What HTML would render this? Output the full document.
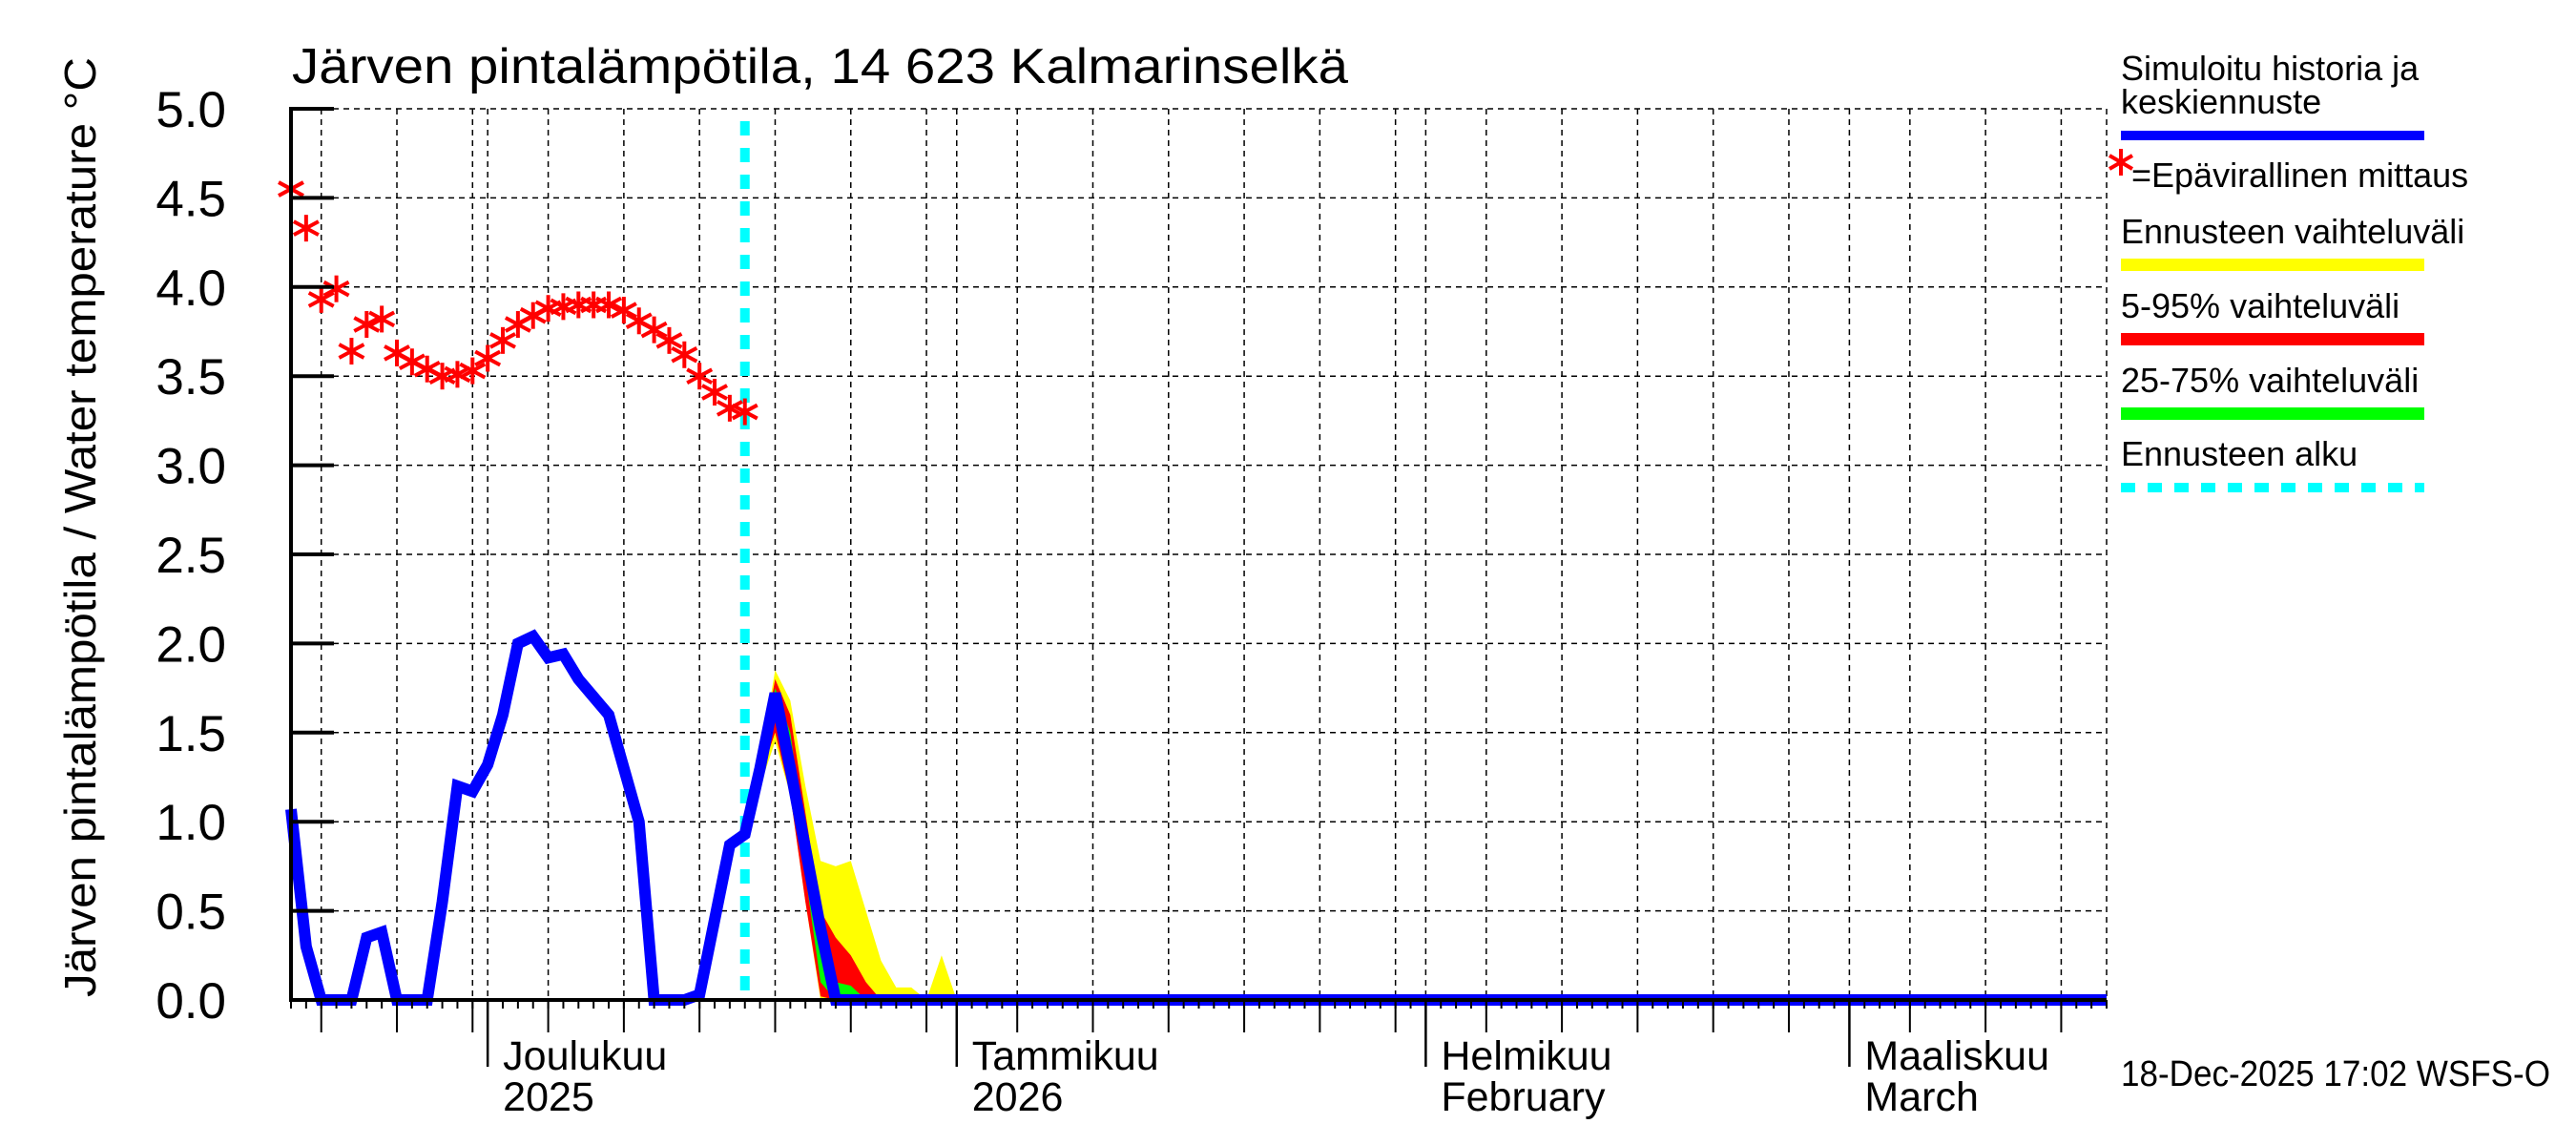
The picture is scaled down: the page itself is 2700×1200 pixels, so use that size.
<!DOCTYPE html>
<html><head><meta charset="utf-8">
<style>
html,body{margin:0;padding:0;background:#fff;}
svg{display:block;font-family:"Liberation Sans",Arial,sans-serif;}
</style></head>
<body>
<svg id="chart" width="2700" height="1200" viewBox="0 0 2700 1200" xmlns="http://www.w3.org/2000/svg">
  <rect x="0" y="0" width="2700" height="1200" fill="#fff"/>
  <g id="grid"></g>
  <g id="bands"></g>
  <g id="series"></g>
  <g id="axes"></g>
  <text x="306" y="87" font-size="52" textLength="1107" lengthAdjust="spacingAndGlyphs">Järven pintalämpötila, 14 623 Kalmarinselkä</text>
  <text transform="translate(100,1045) rotate(-90)" x="0" y="0" font-size="46" textLength="985" lengthAdjust="spacingAndGlyphs">Järven pintalämpötila / Water temperature °C</text>
  <g id="legend">
    <text x="2223" y="84" font-size="36">Simuloitu historia ja</text>
    <text x="2223" y="119" font-size="36">keskiennuste</text>
    <rect x="2223" y="137" width="318" height="10" fill="#0000ff"/>
    <g stroke="#ff0000" stroke-width="4">
      <line x1="2223" y1="156" x2="2223" y2="184"/><line x1="2211" y1="163" x2="2235" y2="177"/><line x1="2211" y1="177" x2="2235" y2="163"/>
    </g>
    <text x="2234" y="196" font-size="36">=Epävirallinen mittaus</text>
    <text x="2223" y="255" font-size="36">Ennusteen vaihteluväli</text>
    <rect x="2223" y="271" width="318" height="13" fill="#ffff00"/>
    <text x="2223" y="333" font-size="36">5-95% vaihteluväli</text>
    <rect x="2223" y="349" width="318" height="13" fill="#ff0000"/>
    <text x="2223" y="411" font-size="36">25-75% vaihteluväli</text>
    <rect x="2223" y="427" width="318" height="13" fill="#00ff00"/>
    <text x="2223" y="488" font-size="36">Ennusteen alku</text>
    <line x1="2223" y1="511" x2="2541" y2="511" stroke="#00ffff" stroke-width="10" stroke-dasharray="15 13"/>
  </g>
  <text x="2223" y="1138" font-size="38" textLength="450" lengthAdjust="spacingAndGlyphs">18-Dec-2025 17:02 WSFS-O</text>
</svg>
<script>
// ---- data (day 0 = 18 Nov 2025) ----
const blueValues = [1.07,0.3,0,0,0,0.35,0.38,0,0,0,0.55,1.2,1.17,1.32,1.6,2.0,2.04,1.92,1.94,1.8,1.7,1.6,1.3,1.0,0,0,0,0.03,0.45,0.87,0.93,1.3,1.72,1.3,0.85,0.4,0];
const blueEndDay = 120;
const starValues = [4.55,4.33,3.93,3.99,3.64,3.79,3.82,3.63,3.58,3.54,3.50,3.51,3.53,3.60,3.70,3.79,3.84,3.88,3.89,3.90,3.90,3.90,3.87,3.81,3.76,3.70,3.62,3.50,3.41,3.32,3.30];
const bandStartDay = 30;
const yellowUpper = [0.93,1.35,1.85,1.68,1.2,0.78,0.75,0.78,0.5,0.22,0.07,0.07,0,0.25,0];
const yellowLower = [0.93,1.2,1.45,1.15,0.55,0,0,0,0,0,0,0,0,0,0];
const redUpper = [0.93,1.33,1.8,1.6,1.05,0.5,0.35,0.25,0.1,0];
const redLower = [0.93,1.25,1.5,1.15,0.55,0.02,0,0,0,0];
const greenUpper = [0.93,1.3,1.75,1.5,0.9,0.3,0.1,0.08,0];
const greenLower = [0.93,1.28,1.6,1.25,0.7,0.1,0,0,0];
const forecastStartDay = 30;
const yTicks = ["0.0","0.5","1.0","1.5","2.0","2.5","3.0","3.5","4.0","4.5","5.0"];
const monthStartDays = [13,44,75,103];
const monthLabels1 = ["Joulukuu","Tammikuu","Helmikuu","Maaliskuu"];
const monthLabels2 = ["2025","2026","February","March"];
const gridDays = [2,7,12,13,17,22,27,32,37,42,44,48,53,58,63,68,73,75,79,84,89,94,99,103,107,112,117];

// ---- axes ----
const X0=305, X1=2208, Y0=1048, Y1=114, NDAYS=120, YMAX=5;
const sx = d => X0 + d*(X1-X0)/NDAYS;
const sy = v => Y0 - v*(Y0-Y1)/YMAX;
const NS="http://www.w3.org/2000/svg";
function mk(tag, attrs, parent){const e=document.createElementNS(NS,tag);for(const k in attrs)e.setAttribute(k,attrs[k]);parent.appendChild(e);return e;}
const grid=document.getElementById('grid'), bands=document.getElementById('bands'), series=document.getElementById('series'), axes=document.getElementById('axes');

yTicks.forEach((t,i)=>{
  const v=parseFloat(t), y=sy(v);
  if(v>0){
    const l=mk('line',{x1:X0,y1:y,x2:X1,y2:y,stroke:'#000','stroke-width':1.5,'stroke-dasharray':'6 5'},grid);
    
    
  }
  const tk=mk('line',{x1:X0,y1:y,x2:X0+45,y2:y,stroke:'#000','stroke-width':4},axes);
  
  
  const tx=mk('text',{x:237,y:y+19,'font-size':53,'text-anchor':'end'},axes);
  tx.textContent=t;
  
  
});
gridDays.forEach(d=>{
  const x=sx(d);
  const l=mk('line',{x1:x,y1:Y1,x2:x,y2:Y0,stroke:'#000','stroke-width':1.5,'stroke-dasharray':'6 5'},grid);
  
  
  if(monthStartDays.indexOf(d)<0){
    const t=mk('line',{x1:x,y1:Y0,x2:x,y2:1082,stroke:'#000','stroke-width':2},axes);
    
    
  }
});
const rb=mk('line',{x1:X1,y1:Y1,x2:X1,y2:Y0,stroke:'#000','stroke-width':1.5,'stroke-dasharray':'6 5'},grid);


for(let d=0; d<=NDAYS; d++){
  const x=sx(d);
  const t=mk('line',{x1:x,y1:Y0,x2:x,y2:1057,stroke:'#000','stroke-width':2},axes);
  
  
}
monthStartDays.forEach((d,i)=>{
  const x=sx(d);
  const t=mk('line',{x1:x,y1:Y0,x2:x,y2:1118,stroke:'#000','stroke-width':2.5},axes);
  
  
  const a=mk('text',{x:x+16,y:1121,'font-size':43},axes);
  a.textContent=monthLabels1[i];
  
  
  const b=mk('text',{x:x+16,y:1164,'font-size':43},axes);
  b.textContent=monthLabels2[i];
  
  
});

function band(up, lo, color, name){
  let pts=[];
  up.forEach((v,i)=>pts.push(sx(bandStartDay+i)+','+sy(v)));
  for(let i=lo.length-1;i>=0;i--) pts.push(sx(bandStartDay+i)+','+sy(lo[i]));
  const p=mk('polygon',{points:pts.join(' '),fill:color},bands);
  
  
}
band(yellowUpper,yellowLower,'#ffff00','band-forecast-range');
band(redUpper,redLower,'#ff0000','band-5-95');
band(greenUpper,greenLower,'#00ff00','band-25-75');

const fs=mk('line',{x1:sx(forecastStartDay),y1:127,x2:sx(forecastStartDay),y2:Y0,stroke:'#00ffff','stroke-width':10,'stroke-dasharray':'15 13'},series);



let bp=blueValues.map((v,i)=>sx(i)+','+sy(v));
bp.push(sx(blueEndDay)+','+sy(0));
const bl=mk('polyline',{points:bp.join(' '),fill:'none',stroke:'#0000ff','stroke-width':12,'stroke-linejoin':'miter'},series);



starValues.forEach((v,i)=>{
  const x=sx(i), y=sy(v);
  const g=mk('g',{stroke:'#ff0000','stroke-width':4},series);
  
  
  mk('line',{x1:x,y1:y-14,x2:x,y2:y+14},g);
  mk('line',{x1:x-13,y1:y-7,x2:x+13,y2:y+7},g);
  mk('line',{x1:x-13,y1:y+7,x2:x+13,y2:y-7},g);
});

const ya=mk('line',{x1:X0,y1:Y1-2,x2:X0,y2:Y0+2,stroke:'#000','stroke-width':4},axes);


const xa=mk('line',{x1:X0-2,y1:Y0,x2:X1,y2:Y0,stroke:'#000','stroke-width':4},axes);


</script>
</body></html>
